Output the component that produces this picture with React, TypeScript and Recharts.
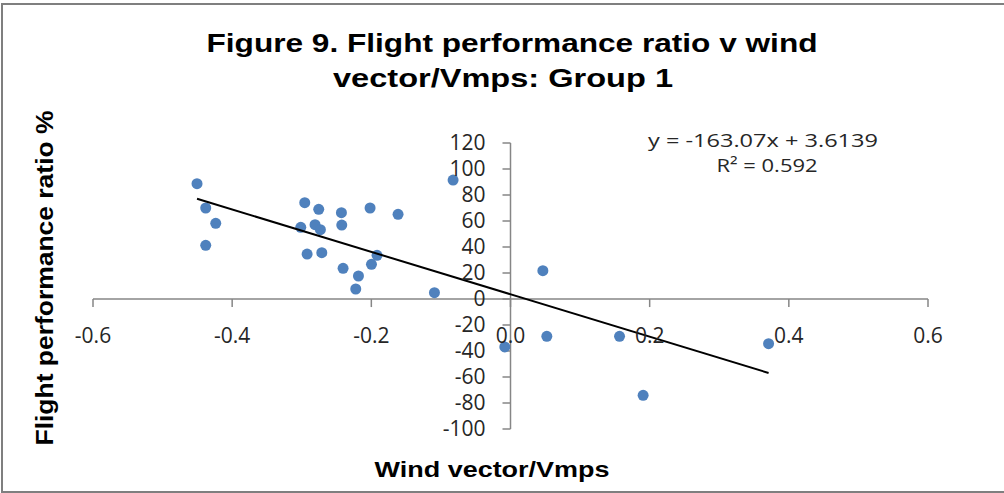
import { ScatterChart, Scatter, XAxis, YAxis, ReferenceLine } from "recharts";

// wind vector (Vmps) and flight performance ratio (%) per flight
const windVector = [
  -0.4505, -0.438, -0.4236, -0.438, -0.2957, -0.3014, -0.2756, -0.2809, -0.2732, -0.2923,
  -0.2712, -0.243, -0.2425, -0.2406, -0.2185, -0.2224, -0.2018, -0.1998, -0.1918, -0.1616,
  -0.1093, -0.0825, 0.0465, -0.0082, 0.0522, 0.1567, 0.1906, 0.3709,
];
const performanceRatio = [
  88.7, 70, 58.2, 41.3, 74.1, 55.1, 69, 57.2, 53.3, 34.6,
  35.6, 66.4, 56.9, 23.6, 17.7, 7.7, 70, 26.7, 33.6, 65.1,
  4.9, 91.5, 21.8, -36.9, -28.7, -28.7, -74.1, -34.4,
];

// linear trendline end points (first and last x of the data)
const trendX = [-0.4505, 0.3709];
const trendY = [77.1, -56.9];

const xTicks = [-0.6, -0.4, -0.2, 0, 0.2, 0.4, 0.6];
const xTickLabels = ["-0.6", "-0.4", "-0.2", "0.0", "0.2", "0.4", "0.6"];
const yTicks = [120, 100, 80, 60, 40, 20, 0, -20, -40, -60, -80, -100];
const yTickLabels = ["120", "100", "80", "60", "40", "20", "0", "-20", "-40", "-60", "-80", "-100"];

const points = windVector.map((x, i) => ({ x, y: performanceRatio[i] }));
const trend = trendX.map((x, i) => ({ x, y: trendY[i] }));

const AXIS = "#868686";
const TICK_FONT = "'Open Sans', sans-serif";
const TITLE_FONT = "'Liberation Sans', Arial, sans-serif";
// tick mark lengths in data units (about 8px)
const X_TICK_LEN = 6.2;
const Y_TICK_LEN = 0.0115;

const Dot = (p: any) => <circle cx={p.cx} cy={p.cy} r={5.5} fill="#4F81BD" />;

export default function App() {
  return (
    <div style={{ position: "relative", width: 1004, height: 493, overflow: "hidden", background: "#fff" }}>
      <style>{"body{margin:0}"}</style>
      <div
        style={{
          position: "absolute",
          left: 1,
          top: 3,
          width: 1020,
          height: 486,
          border: "2px solid #7f7f7f",
        }}
      />
      <div style={{ position: "absolute", left: 0, top: 0 }}>
        <ScatterChart width={1004} height={493} margin={{ top: 143, right: 76, bottom: 64, left: 93 }}>
          <XAxis type="number" dataKey="x" domain={[-0.6, 0.6]} hide />
          <YAxis type="number" dataKey="y" domain={[-100, 120]} hide />
          <ReferenceLine y={0} stroke={AXIS} strokeWidth={1.5} />
          <ReferenceLine x={0} stroke={AXIS} strokeWidth={1.5} />
          {xTicks.map((t, i) => (
            <ReferenceLine
              key={"xt" + t}
              segment={[
                { x: t, y: 0 },
                { x: t, y: -X_TICK_LEN },
              ]}
              stroke={AXIS}
              strokeWidth={1.5}
              ifOverflow="visible"
              label={{
                value: xTickLabels[i],
                position: "bottom",
                offset: 21,
                fontSize: 21,
                fill: "#262626",
                fontFamily: TICK_FONT,
              }}
            />
          ))}
          {yTicks.map((t, i) => (
            <ReferenceLine
              key={"yt" + t}
              segment={[
                { x: -Y_TICK_LEN, y: t },
                { x: 0, y: t },
              ]}
              stroke={AXIS}
              strokeWidth={1.5}
              ifOverflow="visible"
              label={{
                value: yTickLabels[i],
                position: "left",
                offset: 17,
                fontSize: 21,
                fill: "#262626",
                fontFamily: TICK_FONT,
              }}
            />
          ))}
          <Scatter data={points} shape={Dot} isAnimationActive={false} />
          <Scatter
            data={trend}
            line={{ stroke: "#000", strokeWidth: 2 }}
            shape={() => <g />}
            isAnimationActive={false}
          />
        </ScatterChart>
      </div>
      <svg
        width={1004}
        height={493}
        style={{ position: "absolute", left: 0, top: 0, pointerEvents: "none" }}
      >
        <g fontFamily={TITLE_FONT} fontWeight="bold" fill="#000" textAnchor="middle">
          <text x={512} y={52} fontSize={26} textLength={611} lengthAdjust="spacingAndGlyphs">
            Figure 9. Flight performance ratio v wind
          </text>
          <text x={503} y={87} fontSize={26} textLength={340} lengthAdjust="spacingAndGlyphs">
            vector/Vmps: Group 1
          </text>
          <text x={492} y={477} fontSize={22} textLength={235} lengthAdjust="spacingAndGlyphs">
            Wind vector/Vmps
          </text>
          <text
            x={0}
            y={0}
            fontSize={24}
            textLength={335}
            lengthAdjust="spacingAndGlyphs"
            transform="translate(53,278) rotate(-90)"
          >
            Flight performance ratio %
          </text>
        </g>
        <g fontFamily={TICK_FONT} fill="#262626" textAnchor="middle" fontSize={19}>
          <text x={763} y={147} textLength={230} lengthAdjust="spacingAndGlyphs">
            y = -163.07x + 3.6139
          </text>
          <text x={767} y={172} textLength={101} lengthAdjust="spacingAndGlyphs">
            R² = 0.592
          </text>
        </g>
      </svg>
    </div>
  );
}
